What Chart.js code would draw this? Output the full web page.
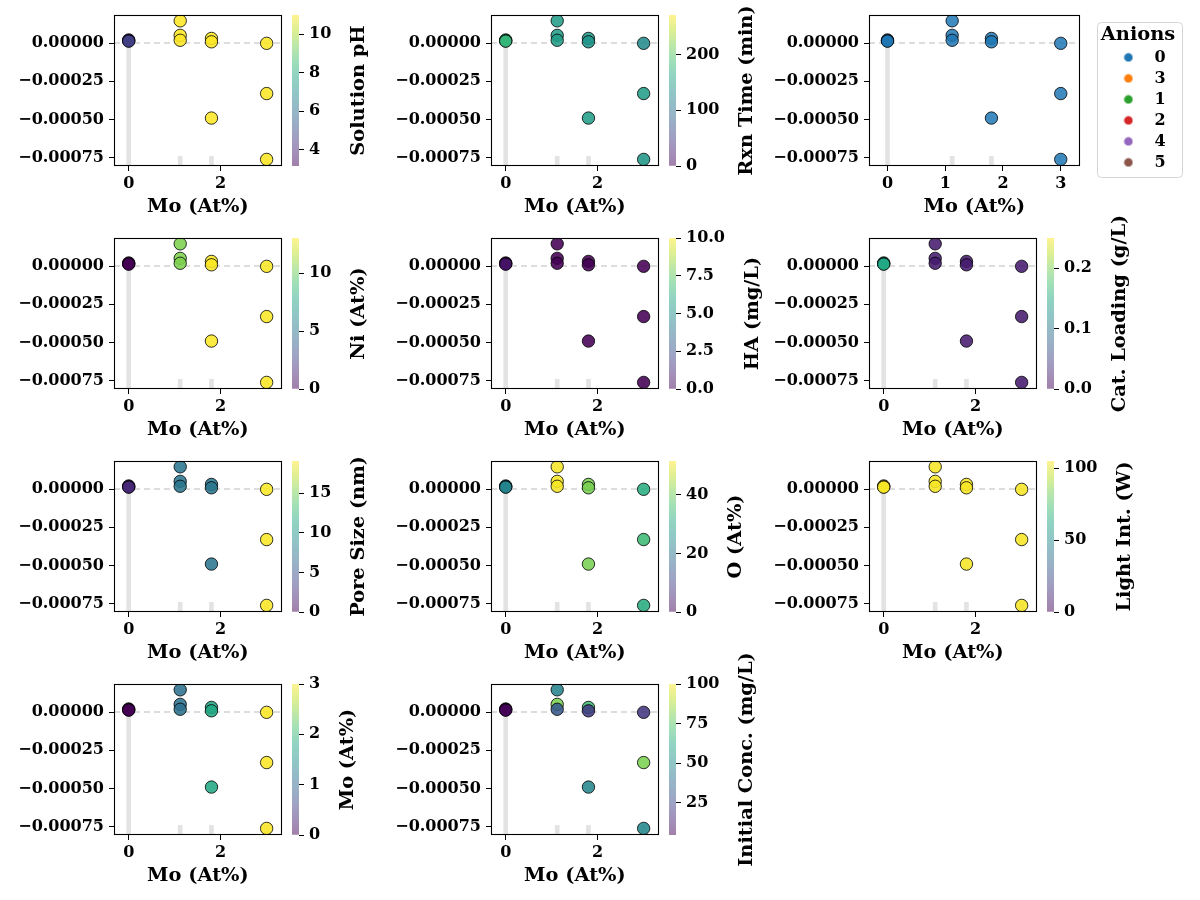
<!DOCTYPE html>
<html><head><meta charset="utf-8">
<script src="https://cdn.jsdelivr.net/npm/chart.js@4.4.0/dist/chart.umd.min.js"></script>
<style>
html,body{margin:0;padding:0;background:#fff;}
#wrap{position:relative;width:1200px;height:900px;overflow:hidden;background:#fff;}
#wrap canvas{position:absolute;}
</style></head><body><div id="wrap"></div>
<script>
// ---------------- DATA ----------------
const moAt = [0, 0, 0, 1.12, 1.12, 1.12, 1.8, 1.8, 1.8, 3, 3, 3];
const shapValues = [0.00002, 0.000015, 0.000012, 0.000145, 0.00005, 0.000018, 0.00003, 0.000008, -0.00049, -0.000002, -0.00033, -0.00076];
const solutionPH = [3.2, 4.0, 4.7, 11, 11, 11, 11, 11, 11, 11, 11, 11];
const rxnTime = [180, 180, 178, 150, 150, 150, 145, 140, 150, 130, 150, 145];
const anionCodes = ['0', '0', '0', '0', '0', '0', '0', '0', '0', '0', '0', '0'];
const niAt = [0, 0, 0, 10.5, 10.5, 10.5, 13, 13, 13, 13, 13, 13];
const haMgL = [0, 0, 0.6, 0, 0, 0, 0, 0, 0, 0, 0, 0];
const catLoading = [0.15, 0.15, 0.15, 0.02, 0.02, 0.02, 0.02, 0.02, 0.02, 0.02, 0.02, 0.02];
const poreSize = [2, 2, 2.2, 7.5, 7.5, 7.5, 7.5, 7.5, 7.5, 19, 19, 19];
const oAt = [23, 23, 23, 51, 51, 51, 41, 41, 41, 32, 35, 32];
const lightInt = [104, 104, 104, 104, 104, 104, 104, 104, 104, 104, 104, 104];
const initConc = [5, 5, 5, 47, 81, 31, 70, 21, 48, 19, 81, 49];

const histBins = [0, 1.12, 1.8, 3];
const histCounts = [38, 3, 3, 3];

const anionCategories = ['0', '3', '1', '2', '4', '5'];

const xLabel = 'Mo (At%)';
const xTicksNarrow = [0, 2];
const xTicksWide = [0, 1, 2, 3];
const yTicks = [-0.00075, -0.0005, -0.00025, 0];

const cbLabels = ['Solution pH', 'Rxn Time (min)', 'Ni (At%)', 'HA (mg/L)', 'Cat. Loading (g/L)', 'Pore Size (nm)', 'O (At%)', 'Light Int. (W)', 'Mo (At%)', 'Initial Conc. (mg/L)'];
const cbMin = [3.16, 0, 0, 0, 0, 0, 0, 0, 0, 4.5];
const cbMax = [11.0, 271, 13.04, 10, 0.25, 19.07, 51.6, 105, 3, 100];
const cbTicks = [[4, 6, 8, 10], [0, 100, 200], [0, 5, 10], [0, 2.5, 5, 7.5, 10], [0, 0.1, 0.2], [0, 5, 10, 15], [0, 20, 40], [0, 50, 100], [0, 1, 2, 3], [25, 50, 75, 100]];
const cbDecimals = [0, 0, 0, 1, 1, 0, 0, 0, 0, 0];
const cbValues = [solutionPH, rxnTime, niAt, haMgL, catLoading, poreSize, oAt, lightInt, moAt, initConc];

// ---------------- STYLE / LAYOUT ----------------
const X_MIN = -0.32, X_MAX = 3.33;
const Y_MIN = -0.000803, Y_MAX = 0.000183;
const HIST_MAX = 47;
const VIRIDIS = ['#440154','#482475','#414487','#355f8d','#2a788e','#21918c','#22a884','#44bf70','#7ad151','#bddf26','#fde725'];
const TAB10 = ['#1f77b4','#ff7f0e','#2ca02c','#d62728','#9467bd','#8c564b'];
const colLeft = [114, 491, 869];
const rowTop = [15, 238, 461, 684];
const AX_W = 167, AX_W_WIDE = 210, AX_H = 151;
const CB_OFF = 178, CB_W = 7;
const YW = 110, XH = 60, PT = 8, PR = 4, EXTRA_R = 4;
const TICK_FONT = 16, LABEL_FONT = 19.4;
const panelOrder = [0, 1, -1, 2, 3, 4, 5, 6, 7, 8, 9];

Chart.defaults.font.family = "'DejaVu Serif', serif";
Chart.defaults.font.weight = 'bold';
Chart.defaults.color = '#000';

function hexRgb(h){ return [parseInt(h.slice(1,3),16), parseInt(h.slice(3,5),16), parseInt(h.slice(5,7),16)]; }
function viridis(t, a){
  t = Math.max(0, Math.min(1, t));
  const n = VIRIDIS.length - 1, f = t * n, i = Math.min(n - 1, Math.floor(f)), r = f - i;
  const c0 = hexRgb(VIRIDIS[i]), c1 = hexRgb(VIRIDIS[i+1]);
  const c = c0.map((v, k) => Math.round(v + (c1[k] - v) * r));
  return `rgba(${c[0]},${c[1]},${c[2]},${a})`;
}
const wrap = document.getElementById('wrap');
function makeCanvas(left, top, w, h){
  const c = document.createElement('canvas');
  c.width = w; c.height = h;
  c.style.left = left + 'px'; c.style.top = top + 'px';
  c.style.width = w + 'px'; c.style.height = h + 'px';
  wrap.appendChild(c);
  return c;
}
function zeroPad(s){ s.paddingTop = 0; s.paddingBottom = 0; s.paddingLeft = 0; s.paddingRight = 0; }
const framePlugin = {
  id: 'frame',
  afterDraw(chart){
    const {ctx, chartArea: a} = chart;
    ctx.save();
    ctx.strokeStyle = '#000'; ctx.lineWidth = 1.1;
    ctx.strokeRect(Math.round(a.left) + 0.5, Math.round(a.top) + 0.5, Math.round(a.right - a.left) - 1, Math.round(a.bottom - a.top) - 1);
    ctx.restore();
  }
};
function fmtY(v){ return (v < -1e-12 ? '\u2212' : '') + Math.abs(v).toFixed(5); }

function makeScatter(left, top, w, colors, xTicks){
  const canvas = makeCanvas(left - YW, top - PT, YW + w + PR + EXTRA_R, PT + AX_H + XH);
  return new Chart(canvas, {
    type: 'scatter',
    data: { datasets: [
      { type: 'scatter', data: moAt.map((x, i) => ({x, y: shapValues[i]})),
        backgroundColor: colors, borderColor: 'rgba(0,0,0,0.8)', borderWidth: 1,
        pointRadius: 6.2, pointHoverRadius: 6.2, order: 1, yAxisID: 'y' },
      { type: 'line', data: [{x: X_MIN, y: 0}, {x: X_MAX, y: 0}], borderColor: '#d2d2d2',
        borderDash: [6, 4], borderWidth: 1.5, pointRadius: 0, order: 2, yAxisID: 'y' },
      { type: 'bar', data: histBins.map((x, i) => ({x, y: histCounts[i]})), backgroundColor: '#e3e3e3',
        barThickness: 4, order: 3, yAxisID: 'yh' }
    ]},
    options: {
      responsive: false, animation: false, devicePixelRatio: 1,
      layout: { padding: { top: PT, right: PR, left: 0, bottom: 0 } },
      plugins: { legend: { display: false }, tooltip: { enabled: false } },
      scales: {
        x: { type: 'linear', min: X_MIN, max: X_MAX, offset: false,
          afterBuildTicks: s => { s.ticks = xTicks.map(v => ({value: v})); },
          afterFit: s => { s.height = XH; zeroPad(s); },
          grid: { offset: false, drawOnChartArea: false, drawTicks: true, tickLength: 5, color: '#000', lineWidth: 1 },
          border: { display: false },
          ticks: { color: '#000', font: { size: TICK_FONT, weight: 'bold' }, padding: 3, maxRotation: 0, autoSkip: false },
          title: { display: true, text: xLabel, color: '#000', font: { size: LABEL_FONT, weight: 'bold' }, padding: { top: 0, bottom: 7 } } },
        y: { type: 'linear', min: Y_MIN, max: Y_MAX, offset: false,
          afterBuildTicks: s => { s.ticks = yTicks.map(v => ({value: v})); },
          afterFit: s => { s.width = YW; zeroPad(s); },
          grid: { offset: false, drawOnChartArea: false, drawTicks: true, tickLength: 5, color: '#000', lineWidth: 1 },
          border: { display: false },
          ticks: { color: '#000', font: { size: TICK_FONT, weight: 'bold' }, padding: 5, callback: v => fmtY(v), autoSkip: false } },
        yh: { type: 'linear', display: false, min: 0, max: HIST_MAX, offset: false, ticks: { display: false } }
      }
    },
    plugins: [framePlugin]
  });
}

function makeColorbar(left, top, k){
  const PL = 2, PTC = 40, PBC = 40, AW = 50, CW = 119;
  const canvas = makeCanvas(left - PL, top - PTC, CW, PTC + AX_H + PBC);
  const dec = cbDecimals[k];
  const labelPlugin = {
    id: 'cblabel',
    afterDraw(chart){
      const s = chart.scales.y, ctx = chart.ctx;
      ctx.save();
      ctx.font = `bold ${TICK_FONT}px 'DejaVu Serif'`;
      let mw = 0; s.ticks.forEach(t => { mw = Math.max(mw, ctx.measureText(t.label).width); });
      const lx = s.left + 5 + 5 + mw + 28;
      const a = chart.chartArea;
      ctx.translate(lx, (a.top + a.bottom) / 2);
      ctx.rotate(-Math.PI / 2);
      ctx.font = `bold ${LABEL_FONT}px 'DejaVu Serif'`;
      ctx.fillStyle = '#000'; ctx.textAlign = 'center'; ctx.textBaseline = 'middle';
      ctx.fillText(cbLabels[k], 0, 0);
      ctx.restore();
    }
  };
  return new Chart(canvas, {
    type: 'bar',
    data: { labels: [cbLabels[k]], datasets: [{
      data: [[cbMin[k], cbMax[k]]], borderWidth: 0, barPercentage: 1, categoryPercentage: 1,
      backgroundColor: c => {
        const a = c.chart.chartArea; if (!a) return 'transparent';
        const g = c.chart.ctx.createLinearGradient(0, a.bottom, 0, a.top);
        for (let i = 0; i <= 20; i++) g.addColorStop(i / 20, viridis(i / 20, 0.5));
        return g;
      } }]},
    options: {
      responsive: false, animation: false, devicePixelRatio: 1,
      layout: { padding: { left: PL, top: PTC, bottom: PBC, right: CW - PL - CB_W - AW } },
      plugins: { legend: { display: false }, tooltip: { enabled: false } },
      scales: {
        x: { display: false },
        y: { position: 'right', min: cbMin[k], max: cbMax[k],
          afterBuildTicks: s => { s.ticks = cbTicks[k].map(v => ({value: v})); },
          afterFit: s => { s.width = AW; zeroPad(s); },
          grid: { drawOnChartArea: false, drawTicks: true, tickLength: 5, color: '#000', lineWidth: 1 },
          border: { display: false },
          ticks: { color: '#000', font: { size: TICK_FONT, weight: 'bold' }, padding: 5, autoSkip: false, callback: v => v.toFixed(dec) } }
      }
    },
    plugins: [labelPlugin]
  });
}

function markerCanvas(color){
  const c = document.createElement('canvas'); c.width = 10; c.height = 10;
  const g = c.getContext('2d'); g.fillStyle = color; g.beginPath(); g.arc(5, 5, 4.3, 0, Math.PI * 2); g.fill();
  return c;
}
function makeLegend(left, top){
  const W = 86, H = 156;
  const canvas = makeCanvas(left, top, W, H + 20);
  const markers = anionCategories.map((c, i) => markerCanvas(TAB10[i]));
  const boxPlugin = {
    id: 'legendbox',
    beforeDraw(chart){
      const ctx = chart.ctx; ctx.save();
      ctx.fillStyle = 'rgba(255,255,255,0.8)'; ctx.strokeStyle = '#d6d6d6'; ctx.lineWidth = 1;
      ctx.beginPath(); ctx.roundRect(0.5, 0.5, W - 1, H - 1, 4); ctx.fill(); ctx.stroke();
      ctx.restore();
    }
  };
  return new Chart(canvas, {
    type: 'scatter',
    data: { datasets: [] },
    options: {
      responsive: false, animation: false, devicePixelRatio: 1,
      layout: { padding: { right: 4 } },
      scales: { x: { display: false }, y: { display: false } },
      plugins: {
        tooltip: { enabled: false },
        legend: { display: true, position: 'top', align: 'center', maxHeight: 300, onClick: null,
          title: { display: true, text: 'Anions', color: '#000', font: { size: LABEL_FONT, weight: 'bold', lineHeight: 1.0 }, padding: { top: 3, bottom: 0 } },
          labels: { usePointStyle: true, pointStyleWidth: 36, boxHeight: 8, padding: 5, color: '#000',
            font: { size: 16, weight: 'bold' },
            generateLabels: () => anionCategories.map((c, i) => ({ text: c, pointStyle: markers[i], fillStyle: TAB10[i], strokeStyle: 'rgba(0,0,0,0)', lineWidth: 0, hidden: false, datasetIndex: i, fontColor: '#000' })) } }
      }
    },
    plugins: [boxPlugin]
  });
}

// ---------------- BUILD ----------------
panelOrder.forEach((k, p) => {
  const row = Math.floor(p / 3), col = p % 3;
  const left = colLeft[col], top = rowTop[row];
  if (k < 0) {
    const colors = anionCodes.map(c => { const h = hexRgb(TAB10[anionCategories.indexOf(c)]); return `rgba(${h[0]},${h[1]},${h[2]},0.85)`; });
    makeScatter(left, top, AX_W_WIDE, colors, xTicksWide);
  } else {
    const vals = cbValues[k];
    const colors = vals.map(v => viridis((v - cbMin[k]) / (cbMax[k] - cbMin[k]), 0.88));
    makeScatter(left, top, AX_W, colors, xTicksNarrow);
    makeColorbar(left + CB_OFF, top, k);
  }
});
makeLegend(1097, 22);
</script>
</body></html>
